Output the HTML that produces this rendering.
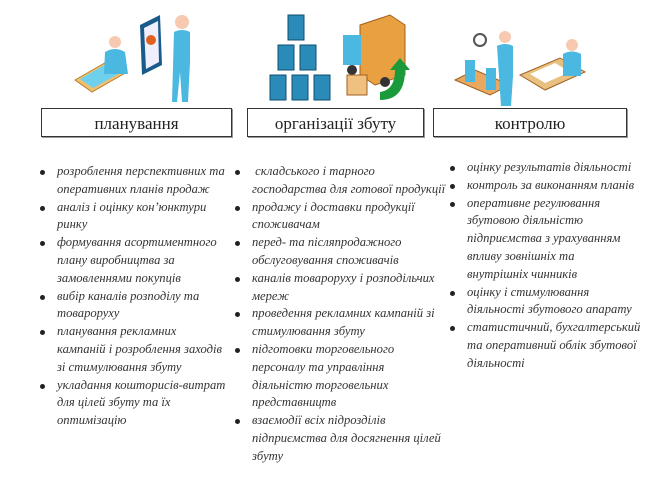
<!DOCTYPE html>
<html><head><meta charset="utf-8"><style>
body{margin:0;width:664px;height:477px;background:#fff;position:relative;overflow:hidden;font-family:"Liberation Serif",serif;}
.box{position:absolute;top:108px;height:29px;border:1px solid #333;box-shadow:1px 1px 0 #999;text-align:center;line-height:29px;font-size:17px;color:#222;box-sizing:border-box}
.col{position:absolute;font-style:italic;font-size:12.6px;color:#333;line-height:17.8px;white-space:nowrap}
.col div{position:relative;height:17.8px}
.b::before{content:"";position:absolute;left:-17px;top:7px;width:5px;height:5px;border-radius:50%;background:#222}
svg{position:absolute;top:0;left:0}
</style></head><body>
<svg width="664" height="108">
<!-- planning icons -->
<polygon points="75,80 110,60 127,72 92,92" fill="#f0c070" stroke="#b88030"/>
<polygon points="80,79 108,63 122,72 93,88" fill="#6fd0ee"/>
<circle cx="115" cy="42" r="6" fill="#f6c9b0"/>
<path d="M105,52 q10,-6 20,0 l3,22 h-24z" fill="#4ab8e0"/>
<polygon points="140,25 160,15 162,65 142,75" fill="#1a5a8a"/>
<polygon points="144,28 158,21 159,62 146,69" fill="#eef"/>
<circle cx="151" cy="40" r="5" fill="#e06020"/>
<circle cx="182" cy="22" r="7" fill="#f6c9b0"/>
<path d="M174,32 q8,-4 16,0 v30 l-2,40 h-6 l-2,-30 l-3,30 h-5z" fill="#4ab8e0"/>
<!-- organization icons -->
<g fill="#2a8ab8" stroke="#0f4f70">
<rect x="288" y="15" width="16" height="25"/><rect x="278" y="45" width="16" height="25"/><rect x="300" y="45" width="16" height="25"/>
<rect x="270" y="75" width="16" height="25"/><rect x="292" y="75" width="16" height="25"/><rect x="314" y="75" width="16" height="25"/>
</g>
<polygon points="360,25 390,15 405,25 405,75 375,85 360,75" fill="#e8a040" stroke="#a06020"/>
<rect x="343" y="35" width="18" height="30" fill="#4ab8e0"/>
<circle cx="352" cy="70" r="5" fill="#333"/><circle cx="385" cy="82" r="5" fill="#333"/>
<rect x="347" y="75" width="20" height="20" fill="#f0c080" stroke="#a06020"/>
<path d="M380,100 q25,0 25,-30 l5,0 -10,-12 -10,12 5,0 q0,20 -15,22z" fill="#1a9a3a"/>
<!-- control icons -->
<polygon points="455,80 490,95 510,85 475,70" fill="#e8a860" stroke="#a06020"/>
<rect x="465" y="60" width="10" height="22" fill="#4ab8e0"/><rect x="486" y="68" width="10" height="22" fill="#4ab8e0"/>
<circle cx="480" cy="40" r="6" fill="none" stroke="#555" stroke-width="2"/>
<circle cx="505" cy="37" r="6" fill="#f6c9b0"/>
<path d="M497,46 q8,-4 16,0 v30 l-2,30 h-10z" fill="#4ab8e0"/>
<polygon points="520,75 560,58 585,72 545,90" fill="#e8c080" stroke="#a06020"/>
<polygon points="530,74 555,63 570,72 545,83" fill="#fff"/>
<circle cx="572" cy="45" r="6" fill="#f6c9b0"/>
<path d="M563,54 q9,-5 18,0 v22 h-18z" fill="#4ab8e0"/>
</svg>
<div class="box" style="left:41px;width:191px">планування</div>
<div class="box" style="left:247px;width:177px">організації збуту</div>
<div class="box" style="left:433px;width:194px">контролю</div>

<div class="col" style="left:57px;top:163px">
<div class="b">розроблення перспективних та</div><div>оперативних планів продаж</div>
<div class="b">аналіз і оцінку кон’юнктури</div><div>ринку</div>
<div class="b">формування асортиментного</div><div>плану виробництва за</div><div>замовленнями покупців</div>
<div class="b">вибір каналів розподілу та</div><div>товароруху</div>
<div class="b">планування рекламних</div><div>кампаній і розроблення заходів</div><div>зі стимулювання збуту</div>
<div class="b">укладання кошторисів-витрат</div><div>для цілей збуту та їх</div><div>оптимізацію</div>
</div>
<div class="col" style="left:252px;top:163px">
<div class="b">&nbsp;складського і тарного</div><div>господарства для готової продукції</div>
<div class="b">продажу і доставки продукції</div><div>споживачам</div>
<div class="b">перед- та післяпродажного</div><div>обслуговування споживачів</div>
<div class="b">каналів товароруху і розподільчих</div><div>мереж</div>
<div class="b">проведення рекламних кампаній зі</div><div>стимулювання збуту</div>
<div class="b">підготовки торговельного</div><div>персоналу та управління</div><div>діяльністю торговельних</div><div>представництв</div>
<div class="b">взаємодії всіх підрозділів</div><div>підприємства для досягнення цілей</div><div>збуту</div>
</div>
<div class="col" style="left:467px;top:159px">
<div class="b">оцінку результатів діяльності</div>
<div class="b">контроль за виконанням планів</div>
<div class="b">оперативне регулювання</div><div>збутовою діяльністю</div><div>підприємства з урахуванням</div><div>впливу зовнішніх та</div><div>внутрішніх чинників</div>
<div class="b">оцінку і стимулювання</div><div>діяльності збутового апарату</div>
<div class="b">статистичний, бухгалтерський</div><div>та оперативний облік збутової</div><div>діяльності</div>
</div>
</body></html>
